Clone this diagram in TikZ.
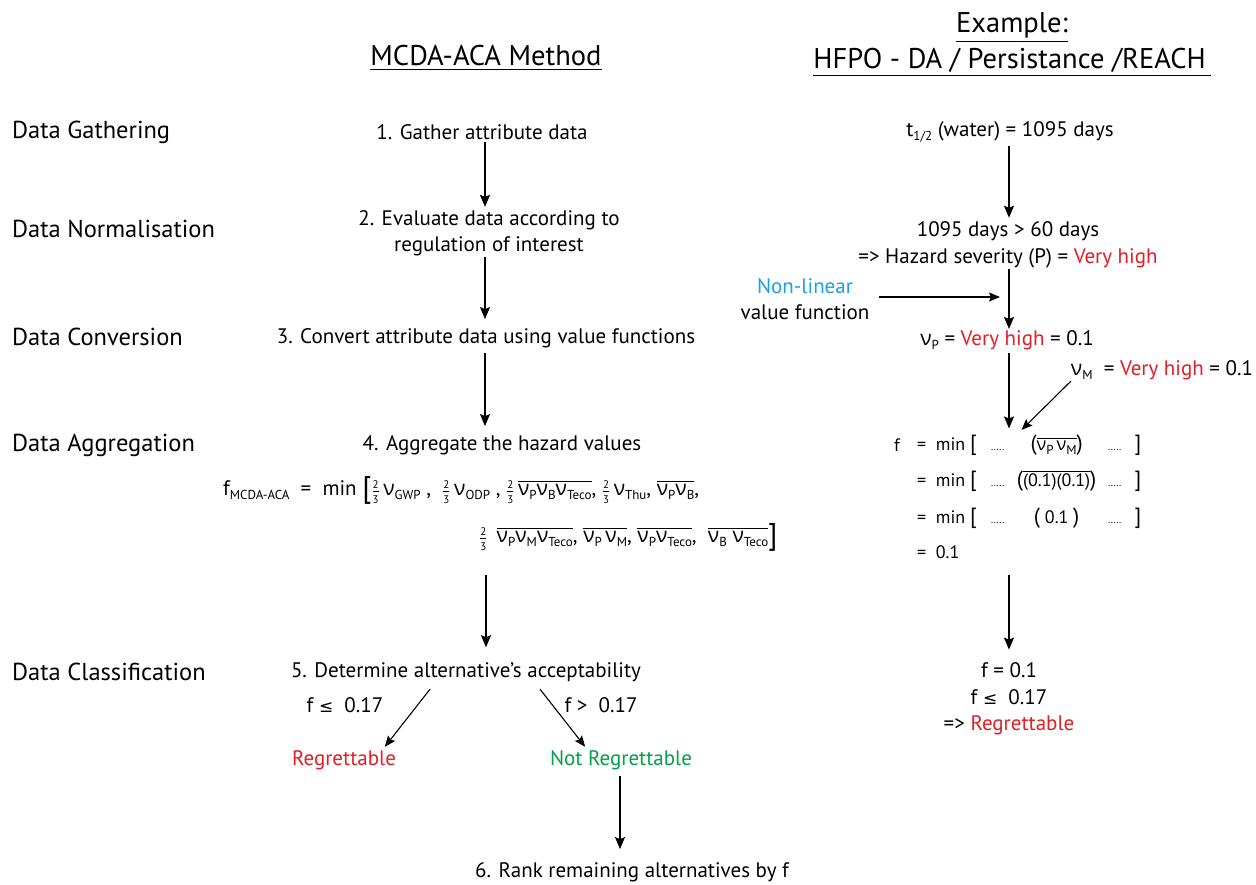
\documentclass[tikz,border=0pt]{standalone}
\usepackage{amsmath}
\usepackage{fontspec}
\setmainfont{PT Sans}
\newfontfamily\gk{Open Sans}
\newfontfamily\dv{DejaVu Sans}
\usetikzlibrary{arrows.meta}
\definecolor{myred}{HTML}{E31E24}
\definecolor{mygreen}{HTML}{00A14B}
\definecolor{myblue}{HTML}{1BA1E2}
\newcommand\sub[1]{\raisebox{-0.45ex}{\fontsize{13}{13}\selectfont #1}}
\newcommand\vv[1]{{\gk ν}\sub{#1}}
\newcommand\tf{\raisebox{-0.1ex}{$\genfrac{}{}{0.3pt}{}{\hbox{\fontsize{11}{11}\selectfont 2}}{\hbox{\fontsize{11}{11}\selectfont 3}}$}\,}
\newcommand\ov[1]{$\overline{\hbox{#1}}$}
\newcommand\bigbr[1]{{\fontsize{30}{30}\selectfont\raisebox{-0.12ex}{#1}}}
\newcommand\dts{{\fontsize{10}{10}\selectfont .....}}
\newcommand\bp[1]{{\fontsize{22}{22}\selectfont #1}}
\newcommand\lee{{\dv\fontsize{17}{17}\selectfont ≤}}
\begin{document}
\begin{tikzpicture}[x=1pt,y=-1pt,
  lbl/.style={font=\fontsize{24.5}{28}\selectfont,anchor=west,inner sep=0pt},
  txt/.style={font=\fontsize{21}{26.5}\selectfont,inner sep=1pt,align=center},
  hdr/.style={font=\fontsize{28.5}{36}\selectfont,inner sep=1pt,align=center},
  frm/.style={font=\fontsize{21}{24}\selectfont,inner sep=1pt,anchor=west},
  rfm/.style={font=\fontsize{18}{22}\selectfont,inner sep=1pt,anchor=west},
  arr/.style={line width=1.4pt,-{Stealth[length=12pt,width=10pt,inset=2pt]}},
  tarr/.style={line width=1.1pt,-{Stealth[length=11pt,width=9pt,inset=2pt]}}]
\useasboundingbox (0,0) rectangle (1256,884);
\fill[white] (0,0) rectangle (1256,884);

% headers
\node[hdr] (h1) at (486,58) {\underline{MCDA-ACA Method}};
\node[hdr] (h2) at (1012,45) {\underline{Example:}\\\underline{HFPO - DA / Persistance /REACH\,}};

% left labels
\node[lbl] (l1) at (12,132) {Data Gathering};
\node[lbl] (l2) at (12,229) {Data Normalisation};
\node[lbl] (l3) at (12,337) {Data Conversion};
\node[lbl] (l4) at (12,445) {Data Aggregation};
\node[lbl] (l5) at (12,672) {Data Classification};

% middle column
\coordinate (cx) at (485,0);
\coordinate (bx) at (620,0);
\node[txt] (s1) at (482,132) {1. Gather attribute data};
\node[txt] (s2) at (489,233) {2. Evaluate data according to\\regulation of interest};
\node[txt] (s3) at (486,338) {3. Convert attribute data using value functions};
\node[txt] (s4) at (502,445) {4. Aggregate the hazard values};
\node[frm] (fa) at (222,490) {f\sub{MCDA-ACA}\ \ =\ \ min\ \bigbr{[}\tf\vv{GWP}\ ,\ \ \tf\vv{ODP}\ ,\ \tf\ov{\vv{P}\vv{B}\vv{Teco}},\ \tf\vv{Thu},\ \ov{\vv{P}\vv{B}},};
\node[frm] (fb) at (478,537) {\tf\ \ov{\vv{P}\vv{M}\vv{Teco}},\ \ov{\vv{P}\,\vv{M}},\ \ov{\vv{P}\vv{Teco}},\ \ \ov{\vv{B}\ \vv{Teco}}\bigbr{]}};
\coordinate (fbot) at (486,575);
\node[txt] (s5) at (466,672) {5. Determine alternative’s acceptability};
\node[txt] (c1) at (345,705) {f \lee\ \ 0.17};
\node[txt] (c2) at (601,705) {f >\ \ 0.17};
\node[txt,text=myred] (r1) at (344,760) {Regrettable};
\node[txt,text=mygreen] (r2) at (621,760) {Not Regrettable};
\node[txt] (s6) at (632,872) {6. Rank remaining alternatives by f};

\draw[arr,shorten <=1pt,shorten >=2pt] (s1.south -| cx) -- (s2.north -| cx);
\draw[arr,shorten >=8pt] (s2.south -| cx) -- (s3.north -| cx);
\draw[arr,shorten <=4pt,shorten >=8pt] (s3.south -| cx) -- (s4.north -| cx);
\draw[arr,shorten >=14pt] (fbot) -- (s5.north -| fbot);
\draw[tarr,shorten <=8pt,shorten >=3pt] ([xshift=-31pt]s5.south) -- ([xshift=39pt]r1.north);
\draw[tarr,shorten <=8pt,shorten >=3pt] ([xshift=69pt]s5.south) -- ([xshift=-34pt]r2.north);
\draw[arr,shorten <=5pt,shorten >=12pt] (r2.south -| bx) -- (s6.north -| bx);

% right column
\coordinate (rx) at (1009,0);
\coordinate (hy) at (0,297);
\node[txt] (e1) at (1010,132) {t\sub{1/2} (water) = 1095 days};
\node[txt] (e2) at (1008,245) {1095 days > 60 days\\=> Hazard severity (P) = \textcolor{myred}{Very high}};
\node[txt] (nl) at (805,299) {\textcolor{myblue}{Non-linear}\\value function};
\node[txt] (e3) at (1007,340) {\vv{P} = \textcolor{myred}{Very high} = 0.1};
\node[txt] (e4) at (1162,370) {\vv{M}\ \ = \textcolor{myred}{Very high} = 0.1};
\node[rfm] (ff) at (893,445) {f};
\node[rfm] (g1) at (916,445) {=\ \ min\ \bp{[}\makebox[42pt]{\dts}\makebox[76pt]{\bp{(}\ov{\vv{P}\,\vv{M}}\bp{)}}\makebox[40pt]{\dts}\bp{]}};
\node[rfm] (g2) at (916,481) {=\ \ min\ \bp{[}\makebox[42pt]{\dts}\makebox[76pt]{\bp{(}\ov{(0.1)(0.1)}\bp{)}}\makebox[40pt]{\dts}\bp{]}};
\node[rfm] (g3) at (916,518) {=\ \ min\ \bp{[}\makebox[42pt]{\dts}\makebox[76pt]{\bp{(}\ 0.1\ \bp{)}}\makebox[40pt]{\dts}\bp{]}};
\node[rfm] (g4) at (916,552) {=\ \ 0.1};
\coordinate (gbot) at (1009,575);
\node[txt] (e5) at (1009,699) {f = 0.1\\f \lee\ \ 0.17\\=> \textcolor{myred}{Regrettable}};

\draw[arr,shorten <=2pt,shorten >=3pt] (e1.south -| rx) -- (e2.north -| rx);
\draw[arr] (e2.south -| rx) -- (e3.north -| rx);
\draw[tarr,shorten <=8pt,shorten >=9pt] (nl.east |- hy) -- (rx |- hy);
\draw[arr,shorten <=2pt,shorten >=5pt] (e3.south -| rx) -- (g1.north -| rx);
\draw[tarr,shorten >=5pt] ([xshift=-91pt]e4.south) -- ([xshift=9pt]g1.north -| rx);
\draw[arr,shorten >=12pt] (gbot) -- (e5.north -| gbot);
\end{tikzpicture}
\end{document}
